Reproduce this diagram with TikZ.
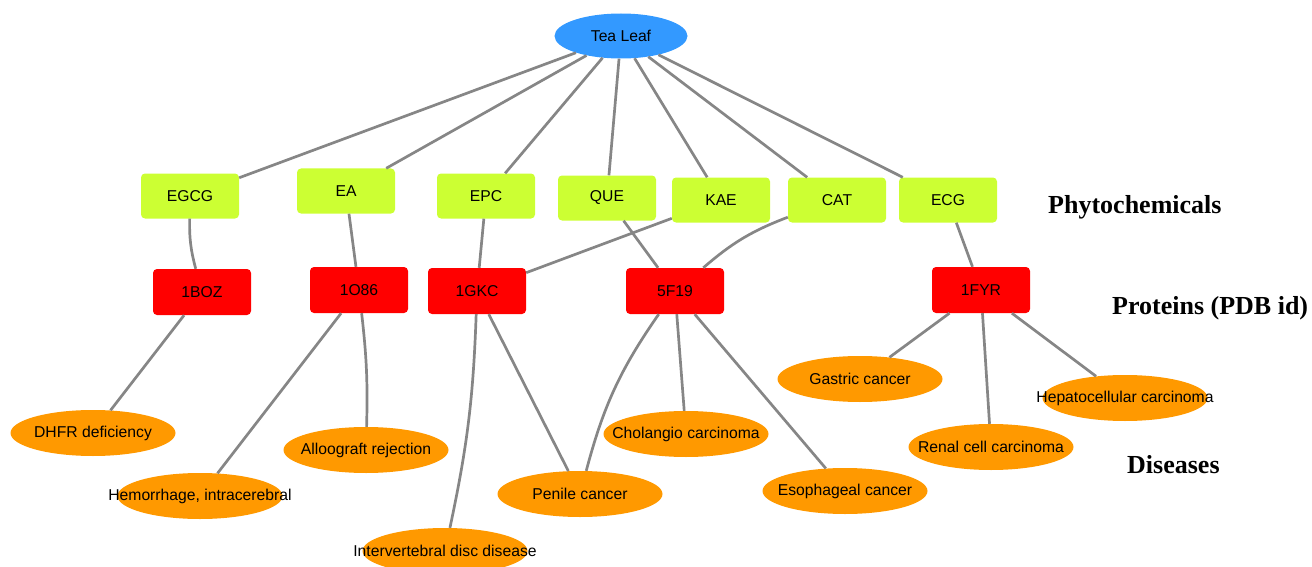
\documentclass[tikz,border=0pt]{standalone}
\usepackage{fontspec}
\setmainfont{Liberation Sans}
\newfontfamily\levelfont{Liberation Serif}
\usetikzlibrary{shapes.geometric}

\definecolor{leafblue}{RGB}{51,153,255}
\definecolor{chemgreen}{RGB}{204,255,51}
\definecolor{protred}{RGB}{255,0,0}
\definecolor{disorange}{RGB}{255,153,0}
\definecolor{linkgray}{RGB}{134,134,134}

\tikzset{
    source/.style={ellipse, fill=leafblue, minimum width=133pt, minimum height=45pt, inner sep=0pt},
    compound/.style={rectangle, rounded corners=4pt, fill=chemgreen, minimum width=98pt, minimum height=45pt, inner sep=0pt},
    protein/.style={rectangle, rounded corners=4pt, fill=protred, minimum width=98pt, minimum height=46pt, inner sep=0pt},
    disease/.style={ellipse, fill=disorange, minimum width=165pt, minimum height=46pt, inner sep=0pt},
    link/.style={draw=linkgray, line width=2.7pt},
    level/.style={font=\levelfont\bfseries\fontsize{26}{30}\selectfont, anchor=west, inner sep=0pt}
}

\begin{document}
\begin{tikzpicture}[x=1pt, y=-1pt, font=\fontsize{15.7}{18}\selectfont]
        \useasboundingbox (0,0) rectangle (1312,567);

        % source
        \node[source] (tea) at (621,36) {Tea Leaf};

        % phytochemicals
        \node[compound] (egcg) at (190,196) {EGCG};
        \node[compound] (ea)   at (346,191) {EA};
        \node[compound] (epc)  at (486,196) {EPC};
        \node[compound] (que)  at (607,198) {QUE};
        \node[compound] (kae)  at (721,200) {KAE};
        \node[compound] (cat)  at (837,200) {CAT};
        \node[compound] (ecg)  at (948,200) {ECG};

        % proteins
        \node[protein] (boz) at (202,292) {1BOZ};
        \node[protein] (o86) at (359,290) {1O86};
        \node[protein] (gkc) at (477,291) {1GKC};
        \node[protein] (f19) at (675,291) {5F19};
        \node[protein] (fyr) at (981,290) {1FYR};

        % diseases
        \node[disease, label=center:DHFR deficiency] (dhfr) at (93,433) {};
        \node[disease, label={center:Hemorrhage, intracerebral}] (hemo) at (200,496) {};
        \node[disease, label=center:Alloograft rejection] (allo) at (366,450) {};
        \node[disease, label=center:Intervertebral disc disease] (disc) at (445,551) {};
        \node[disease, label=center:Penile cancer] (penile) at (580,494) {};
        \node[disease, label=center:Cholangio carcinoma] (chol) at (686,434) {};
        \node[disease, label=center:Esophageal cancer] (esoph) at (845,491) {};
        \node[disease, label=center:Gastric cancer] (gastric) at (860,379) {};
        \node[disease, label=center:Renal cell carcinoma] (renal) at (991,447) {};
        \node[disease, label=center:Hepatocellular carcinoma] (hepa) at (1125,398) {};

        % level names
        \node[level] (phyto) at (1048,207) {Phytochemicals};
        \node[level] (prot) at (1112,308) {Proteins (PDB id)};
        \node[level] (dis) at (1127,465) {Diseases};

        % links
        \foreach \c in {egcg,ea,epc,que,kae,cat,ecg}
            \draw[link] (tea) -- (\c);

        \draw[link] (egcg) to[bend right=8] (boz);
        \draw[link] (ea) -- (o86);
        \draw[link] (epc) -- (gkc);
        \draw[link] (kae) -- (gkc);
        \draw[link] (que) -- (f19);
        \draw[link] (cat) to[bend right=10] (f19);
        \draw[link] (ecg) -- (fyr);

        \draw[link] (boz) -- (dhfr);
        \draw[link] (o86) -- (hemo);
        \draw[link] (o86) to[bend left=4] (allo);
        \draw[link] (gkc) to[bend left=5] (disc);
        \draw[link] (gkc) -- (penile);
        \draw[link] (f19) to[bend right=10] (penile);
        \draw[link] (f19) -- (chol);
        \draw[link] (f19) -- (esoph);
        \draw[link] (fyr) -- (gastric);
        \draw[link] (fyr) -- (renal);
        \draw[link] (fyr) -- (hepa);

\end{tikzpicture}
\end{document}
